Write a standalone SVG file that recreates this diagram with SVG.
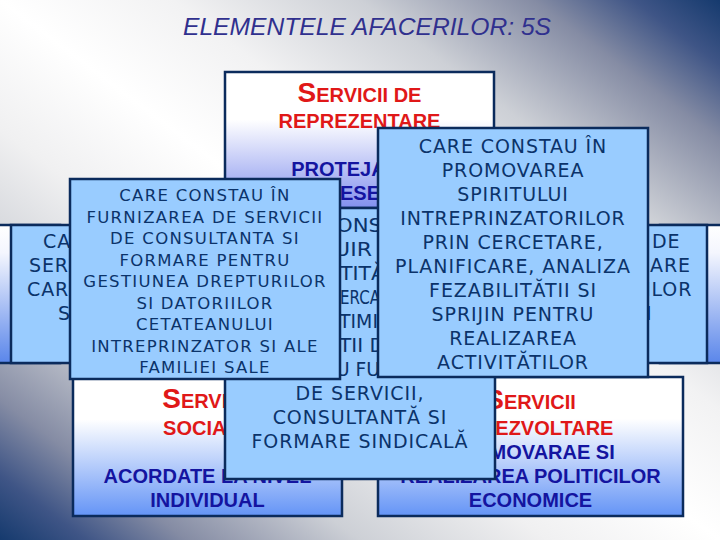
<svg xmlns="http://www.w3.org/2000/svg" width="720" height="540" viewBox="0 0 720 540">
<defs>
<linearGradient id="bg" x1="1" y1="0" x2="0" y2="1">
<stop offset="0" stop-color="#153a6e"/>
<stop offset="0.06" stop-color="#3f5586"/>
<stop offset="0.13" stop-color="#858ca4"/>
<stop offset="0.25" stop-color="#cdd0d6"/>
<stop offset="0.38" stop-color="#f2f2f3"/>
<stop offset="0.5" stop-color="#ffffff"/>
<stop offset="0.62" stop-color="#f0f0f1"/>
<stop offset="0.75" stop-color="#cdd0d6"/>
<stop offset="0.87" stop-color="#858ca4"/>
<stop offset="0.94" stop-color="#3f5586"/>
<stop offset="1" stop-color="#153a6e"/>
</linearGradient>
<linearGradient id="gTop" x1="0" y1="0" x2="0" y2="1">
<stop offset="0" stop-color="#ffffff"/>
<stop offset="0.35" stop-color="#ffffff"/>
<stop offset="1" stop-color="#8290ee"/>
</linearGradient>
<linearGradient id="gBot" x1="0" y1="0" x2="0" y2="1">
<stop offset="0" stop-color="#ffffff"/>
<stop offset="0.3" stop-color="#ffffff"/>
<stop offset="1" stop-color="#6494f6"/>
</linearGradient>
<linearGradient id="gSide" x1="0" y1="0" x2="0" y2="1">
<stop offset="0" stop-color="#ffffff"/>
<stop offset="0.2" stop-color="#f4f6fe"/>
<stop offset="1" stop-color="#5a86ea"/>
</linearGradient>
<style>
.box{stroke:#0b2b5c;stroke-width:2.5}
.pop{fill:#99ccff;stroke:#0b2b5c;stroke-width:2.5}
.pt{font-family:"DejaVu Sans",Verdana,sans-serif;font-size:19px;letter-spacing:0.9px;fill:#0b336a}
.pl{font-family:"DejaVu Sans",Verdana,sans-serif;font-size:16.5px;letter-spacing:1.3px;fill:#0b336a}
.fr{font-family:"DejaVu Sans",Verdana,sans-serif;font-size:19px;fill:#0b336a}
.rt{font-family:"Liberation Sans",Arial,sans-serif;font-weight:bold;font-size:20px;fill:#e01818}
.bt{font-family:"Liberation Sans",Arial,sans-serif;font-weight:bold;font-size:20px;fill:#1414a0}
.big{font-size:28px}
.mid{text-anchor:middle}
.title{font-family:"Liberation Sans",Arial,sans-serif;font-style:italic;font-size:24px;fill:#30308e}
</style>
</defs>
<rect x="0" y="0" width="720" height="540" fill="url(#bg)"/>
<text class="title" x="183" y="35" textLength="368" lengthAdjust="spacingAndGlyphs">ELEMENTELE AFACERILOR: 5S</text>
<g id="connectors"/>
<g id="left-side">
<rect class="box" x="-60" y="225" width="120" height="138" fill="url(#gSide)"/>
<rect class="pop" x="11" y="225" width="270" height="138"/>
<text class="pt" x="43" y="248">CA</text>
<text class="pt" x="29" y="272">SER</text>
<text class="pt" x="27" y="296">CAR</text>
<text class="pt" x="58" y="320">S</text>
</g>
<g id="right-side">
<rect class="box" x="660" y="225" width="120" height="138" fill="url(#gSide)"/>
<rect class="pop" x="437" y="225" width="270" height="138"/>
<text class="pt" x="652" y="248">DE</text>
<text class="pt" x="650" y="272">ARE</text>
<text class="pt" x="645" y="296">ILOR</text>
<text class="pt" x="646" y="320">I</text>
</g>
<g id="servicii-sociale">
<rect class="box" x="73" y="378" width="269" height="138" fill="url(#gBot)"/>
<text class="rt mid" x="207.5" y="408"><tspan class="big">S</tspan>ERVICII</text>
<text class="rt mid" x="207.5" y="435">SOCIALE</text>
<text class="bt mid" x="207.5" y="483">ACORDATE LA NIVEL</text>
<text class="bt mid" x="207.5" y="507">INDIVIDUAL</text>
</g>
<g id="servicii-dezvoltare">
<rect class="box" x="378" y="377" width="305" height="139" fill="url(#gBot)"/>
<text class="rt mid" x="530.5" y="409"><tspan class="big">S</tspan>ERVICII</text>
<text class="rt mid" x="530.5" y="435">DE DEZVOLTARE</text>
<text class="bt mid" x="530.5" y="459">PROMOVARAE SI</text>
<text class="bt mid" x="530.5" y="483">REALIZAREA POLITICILOR</text>
<text class="bt mid" x="530.5" y="507">ECONOMICE</text>
</g>
<g id="servicii-reprezentare">
<rect class="box" x="225" y="72" width="269" height="136" fill="url(#gTop)"/>
<text class="rt mid" x="359.5" y="102"><tspan class="big">S</tspan>ERVICII DE</text>
<text class="rt mid" x="359.5" y="128">REPREZENTARE</text>
<text class="bt mid" x="359.5" y="176">PROTEJAREA</text>
<text class="bt" x="340" y="200">ESE</text>
</g>
<g id="popup-center">
<rect class="pop" x="225" y="208" width="270" height="271"/>
<text class="fr" x="336" y="232" textLength="46" lengthAdjust="spacingAndGlyphs">ONS</text>
<text class="fr" x="334" y="256" textLength="38" lengthAdjust="spacingAndGlyphs">UIR</text>
<text class="fr" x="340" y="280" textLength="45" lengthAdjust="spacingAndGlyphs">TITĂ</text>
<text class="fr" x="340" y="304" textLength="40" lengthAdjust="spacingAndGlyphs">ERCA</text>
<text class="fr" x="339" y="328" textLength="39" lengthAdjust="spacingAndGlyphs">TIMI</text>
<text class="fr" x="339" y="352" textLength="46" lengthAdjust="spacingAndGlyphs">TII D</text>
<text class="fr" x="336" y="376" textLength="44" lengthAdjust="spacingAndGlyphs">U FU</text>
<text class="pt mid" x="360" y="400">DE SERVICII,</text>
<text class="pt mid" x="360" y="424">CONSULTANTĂ SI</text>
<text class="pt mid" x="360" y="448">FORMARE SINDICALĂ</text>
</g>
<g id="popup-left">
<rect class="pop" x="70" y="179" width="270" height="200"/>
<text class="pl mid" x="205" y="201">CARE CONSTAU ÎN</text>
<text class="pl mid" x="205" y="222.5">FURNIZAREA DE SERVICII</text>
<text class="pl mid" x="205" y="244">DE CONSULTANTA SI</text>
<text class="pl mid" x="205" y="265.5">FORMARE PENTRU</text>
<text class="pl mid" x="205" y="287">GESTIUNEA DREPTURILOR</text>
<text class="pl mid" x="205" y="308.5">SI DATORIILOR</text>
<text class="pl mid" x="205" y="330">CETATEANULUI</text>
<text class="pl mid" x="205" y="351.5">INTREPRINZATOR SI ALE</text>
<text class="pl mid" x="205" y="373">FAMILIEI SALE</text>
</g>
<g id="popup-right">
<rect class="pop" x="378" y="128" width="270" height="249"/>
<text class="pt mid" x="513" y="153">CARE CONSTAU ÎN</text>
<text class="pt mid" x="513" y="177">PROMOVAREA</text>
<text class="pt mid" x="513" y="201">SPIRITULUI</text>
<text class="pt mid" x="513" y="225">INTREPRINZATORILOR</text>
<text class="pt mid" x="513" y="249">PRIN CERCETARE,</text>
<text class="pt mid" x="513" y="273">PLANIFICARE, ANALIZA</text>
<text class="pt mid" x="513" y="297">FEZABILITĂTII SI</text>
<text class="pt mid" x="513" y="321">SPRIJIN PENTRU</text>
<text class="pt mid" x="513" y="345">REALIZAREA</text>
<text class="pt mid" x="513" y="369">ACTIVITĂTILOR</text>
</g>
</svg>
